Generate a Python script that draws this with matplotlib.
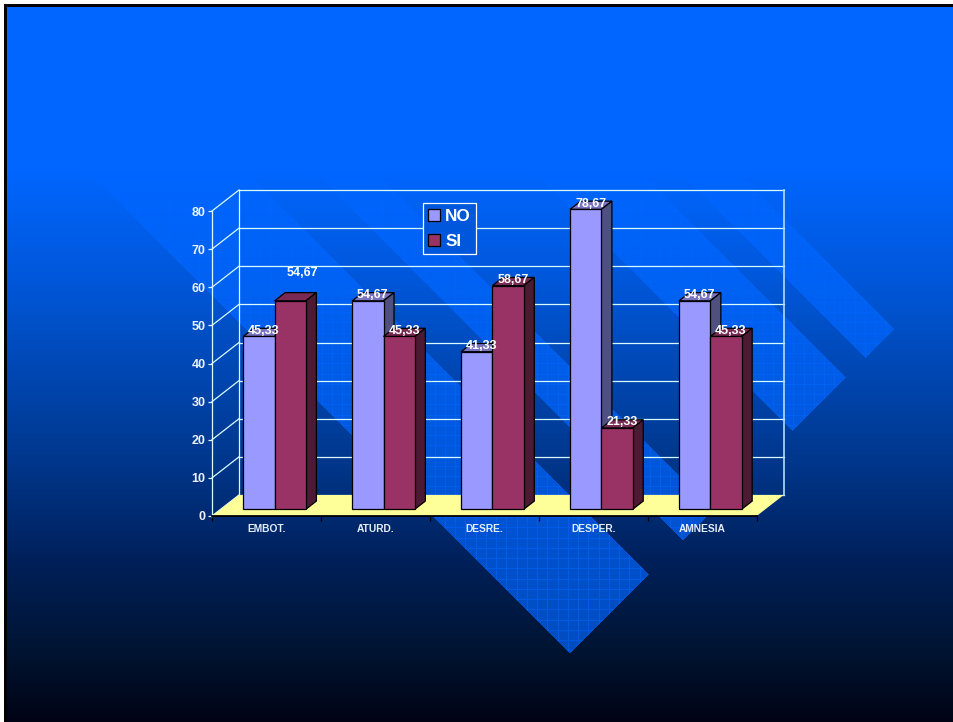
import numpy as np
import matplotlib
matplotlib.use("Agg")
import matplotlib.pyplot as plt
from matplotlib.patches import Polygon

plt.rcParams['font.family'] = ['Liberation Sans', 'DejaVu Sans']

categories = ["EMBOT.", "ATURD.", "DESRE.", "DESPER.", "AMNESIA"]
no_values = [45.33, 54.67, 41.33, 78.67, 54.67]
si_values = [54.67, 45.33, 58.67, 21.33, 45.33]
no_labels = ["45,33", "54,67", "41,33", "78,67", "54,67"]
si_labels = ["54,67", "45,33", "58,67", "21,33", "45,33"]
y_ticks = [0, 10, 20, 30, 40, 50, 60, 70, 80]

W, H = 954, 722
fig = plt.figure(figsize=(W / 100, H / 100), dpi=100, facecolor="white")

# background: vertical gradient + textured diagonal bands
yy, xx = np.mgrid[0:H, 0:W]
stops_y = [0, 170, 300, 460, 560, 650, 722]
stops_g = [102, 102, 84, 55, 32, 20, 3]
stops_b = [255, 255, 210, 140, 90, 50, 20]
bg = np.zeros((H, W, 3))
bg[..., 1] = np.interp(yy, stops_y, stops_g)
bg[..., 2] = np.interp(yy, stops_y, stops_b)

bands = [(-83, 74), (143, 203), (362, 468), (508, 565)]
u = xx - yy
mask = np.zeros((H, W), dtype=bool)
for lo, hi in bands:
    mask |= (u >= lo) & (u <= hi) & (xx + yy <= 1222)
alpha = 0.66 + 0.06 * ((xx + yy) % 2)
grid = ((xx - 506) % 10.25 < 1) | ((yy - 547.3) % 10.25 < 1)
alpha[grid] = 0.85
alpha[~mask] = 0
tint = np.array([0, 102, 255.0])
bg = bg * (1 - alpha[..., None]) + tint * alpha[..., None]
bg = bg / 255

# black frame on top and left, thin white margin outside
bg[:7, :] = 0
bg[:, :7] = 0
bg[:4, :] = 1
bg[:, :4] = 1

ax_bg = fig.add_axes([0, 0, 1, 1], zorder=0)
ax_bg.imshow(bg, extent=(0, W, H, 0), aspect="auto", interpolation="nearest")
ax_bg.axis("off")

# front plane of the chart
left, right, y0, y80 = 212, 756.7, 516, 211
ax = fig.add_axes([left / W, 1 - y0 / H, (right - left) / W, (y0 - y80) / H], zorder=1)
ax.patch.set_alpha(0)
ax.set_xlim(0, 5)
ax.set_ylim(0, 80)

# oblique projection, depth 0 = front, 1 = back wall
depth_x = 27 / ((right - left) / 5)
depth_y = 21 / ((y0 - y80) / 80)


def proj(x, y, d):
    return x + d * depth_x, y + d * depth_y


wall_color = "#D8FBFF"
for t in y_ticks:
    ax.plot(*zip(proj(0, t, 0), proj(0, t, 1)), color=wall_color, lw=0.9, zorder=1, clip_on=False)
    ax.plot(*zip(proj(0, t, 1), proj(5, t, 1)), color=wall_color, lw=0.9, zorder=1, clip_on=False)
ax.plot(*zip(proj(0, 0, 1), proj(0, 80, 1)), color=wall_color, lw=0.9, zorder=1, clip_on=False)
ax.plot(*zip(proj(5, 0, 1), proj(5, 80, 1)), color="#B0DCFF", lw=1.2, zorder=1, clip_on=False)

floor = [proj(0, 0, 0), proj(5, 0, 0), proj(5, 0, 1), proj(0, 0, 1)]
ax.add_patch(Polygon(floor, closed=True, facecolor="#FFFF99", edgecolor="none", zorder=2, clip_on=False))

# bars
bar_w = 0.2875
d0, d1 = 0.32, 0.71
x_pos = np.arange(len(categories)) + 0.5 + d0 * depth_x - 0.005
base = d0 * depth_y


def bar3d(xc, value, face, top, side, z):
    cont = ax.bar(xc, value, bar_w, bottom=base, color=face, edgecolor="black",
                  linewidth=0.9, zorder=z + 0.2, clip_on=False)
    xl, xr = xc - bar_w / 2, xc + bar_w / 2
    dd = d1 - d0
    yt = base + value
    top_face = [(xl, yt), (xr, yt), proj(xr, yt, dd), proj(xl, yt, dd)]
    side_face = [(xr, base), proj(xr, base, dd), proj(xr, yt, dd), (xr, yt)]
    ax.add_patch(Polygon(top_face, closed=True, facecolor=top, edgecolor="black",
                         linewidth=0.9, zorder=z, clip_on=False))
    ax.add_patch(Polygon(side_face, closed=True, facecolor=side, edgecolor="black",
                         linewidth=0.9, zorder=z, clip_on=False))
    return cont


z = 3
for i in range(len(categories)):
    h_no = bar3d(x_pos[i] - bar_w / 2, no_values[i], "#9999FF", "#7A74C0", "#4F4F80", z)
    h_si = bar3d(x_pos[i] + bar_w / 2, si_values[i], "#993366", "#7A2952", "#4D1A33", z + 1)
    z += 2

# data labels, px offsets converted to points
px = 0.72
for i in range(len(categories)):
    ax.annotate(no_labels[i], (x_pos[i] - bar_w / 2, base + no_values[i]),
                xytext=(5 * px, 5.8 * px), textcoords="offset points", ha="center", va="center",
                color="white", fontsize=9, fontweight="bold", zorder=30, annotation_clip=False)
    off = (12.4 * px, 28 * px) if i == 0 else (5 * px, 5.8 * px)
    ax.annotate(si_labels[i], (x_pos[i] + bar_w / 2, base + si_values[i]),
                xytext=off, textcoords="offset points", ha="center", va="center",
                color="white", fontsize=9, fontweight="bold", zorder=30, annotation_clip=False)

# axes
for s in ["top", "right"]:
    ax.spines[s].set_visible(False)
ax.spines["left"].set_color(wall_color)
ax.spines["left"].set_linewidth(0.9)
ax.spines["bottom"].set_color("black")
ax.spines["bottom"].set_linewidth(1.3)
ax.spines["bottom"].set_zorder(20)

ax.set_yticks(y_ticks)
ax.tick_params(axis="y", length=3, width=0.9, color=wall_color, pad=1.7, labelcolor="#ECF2FF", labelsize=9)
for lab in ax.get_yticklabels():
    lab.set_fontweight("bold")

ax.set_xticks(np.arange(0, 6))
ax.set_xticklabels([])
ax.set_xticks(np.arange(len(categories)) + 0.5, categories, minor=True)
ax.tick_params(axis="x", which="major", length=3.5, width=0.9, color="black")
ax.tick_params(axis="x", which="minor", length=0, pad=5.5, labelcolor="#E4ECF8", labelsize=7.4)
for lab in ax.get_xticklabels(minor=True):
    lab.set_fontweight("bold")

leg = ax.legend([h_no, h_si], ["NO", "SI"], loc="upper left",
                bbox_to_anchor=(422.7 / W, 1 - 203.3 / H), bbox_transform=fig.transFigure,
                borderaxespad=0, fancybox=False, framealpha=1, facecolor="#0057DC", edgecolor="white",
                handlelength=0.7, handleheight=0.7, handletextpad=0.3, borderpad=0.32,
                labelspacing=0.58, prop={"size": 12.3, "weight": "bold"}, labelcolor="white")
leg.get_frame().set_linewidth(0.9)
leg.set_zorder(25)

fig.savefig("out.png", dpi=100, facecolor=fig.get_facecolor())
